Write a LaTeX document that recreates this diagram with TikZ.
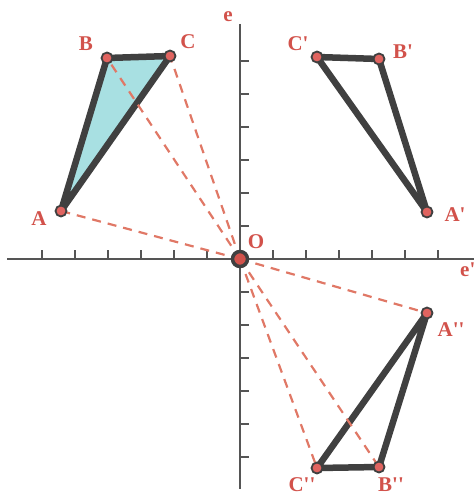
\documentclass[tikz,border=0pt]{standalone}
\usepackage{fontspec}
\setmainfont{Liberation Serif}
\definecolor{lbl}{HTML}{D2524B}
\definecolor{dash}{HTML}{E07866}
\definecolor{edge}{HTML}{404040}
\definecolor{axis}{HTML}{555555}
\definecolor{cyanfill}{HTML}{A8E0E2}
\definecolor{dotfill}{HTML}{E06460}
\newcommand\prm{\textquotesingle}
\tikzset{
  axisline/.style={draw=axis, line width=1.6pt},
  tick/.style={draw=axis, line width=1.3pt},
  tri/.style={draw=edge, line width=6.5pt, line join=round, line cap=round},
  ray/.style={draw=dash, line width=2.2pt, dash pattern=on 9pt off 7pt},
  vtx/.style={circle, fill=dotfill, draw=edge, line width=1.8pt, minimum size=11pt, inner sep=0pt},
  orig/.style={circle, fill=lbl, draw=edge, line width=3.5pt, minimum size=15pt, inner sep=0pt},
  lab/.style={text=lbl, font=\bfseries\fontsize{21}{21}\selectfont, inner sep=0pt}
}
\begin{document}
\begin{tikzpicture}[x=1pt, y=-1pt]
\useasboundingbox (0,0) rectangle (474,495);
% points
\coordinate (O) at (240,259);
\coordinate (A) at (61,211);
\coordinate (B) at (107,58);
\coordinate (C) at (170,56);
\coordinate (A1) at (427,212);
\coordinate (B1) at (379,59);
\coordinate (C1) at (317,57);
\coordinate (A2) at (427,313);
\coordinate (B2) at (379,467);
\coordinate (C2) at (317,468);
\coordinate (xl) at (7,259);
\coordinate (xr) at (474,259);
\coordinate (yt) at (240,24);
\coordinate (yb) at (240,489);
% axes
\draw[axisline] (xl) -- (xr);
\draw[axisline] (yt) -- (yb);
\foreach \i in {1,...,6} {
  \draw[tick] (240-33*\i,259) -- (240-33*\i,250);
  \draw[tick] (240+33*\i,259) -- (240+33*\i,250);
  \draw[tick] (240,259-33*\i) -- (249,259-33*\i);
  \draw[tick] (240,259+33*\i) -- (249,259+33*\i);
}
% filled triangle
\fill[cyanfill] (A) -- (B) -- (C) -- cycle;
\draw[tri] (A) -- (B) -- (C) -- cycle;
\draw[tri] (A1) -- (B1) -- (C1) -- cycle;
\draw[tri] (A2) -- (B2) -- (C2) -- cycle;
% rays
\draw[ray] (O) -- (A);
\draw[ray] (O) -- (B);
\draw[ray] (O) -- (C);
\draw[ray] (O) -- (A2);
\draw[ray] (O) -- (B2);
\draw[ray] (O) -- (C2);
% vertex markers
\foreach \p in {A,B,C,A1,B1,C1,A2,B2,C2} \node[vtx] (m\p) at (\p) {};
\node[orig] (mO) at (O) {};
% labels
\node[lab] (lA) at (39,219) {A};
\node[lab] (lB) at (86,44) {B};
\node[lab] (lC) at (188,42) {C};
\node[lab] (lC1) at (298,44) {C\prm};
\node[lab] (lB1) at (403,52) {B\prm};
\node[lab] (lA1) at (455,215) {A\prm};
\node[lab] (lA2) at (451,330) {A\prm\prm};
\node[lab] (lB2) at (391,485) {B\prm\prm};
\node[lab] (lC2) at (302,484.5) {C\prm\prm};
\node[lab] (lO) at (256,242) {O};
\node[lab] (le) at (228,17) {e};
\node[lab, anchor=west] (le1) at (460,270) {e\prm};
\end{tikzpicture}
\end{document}
